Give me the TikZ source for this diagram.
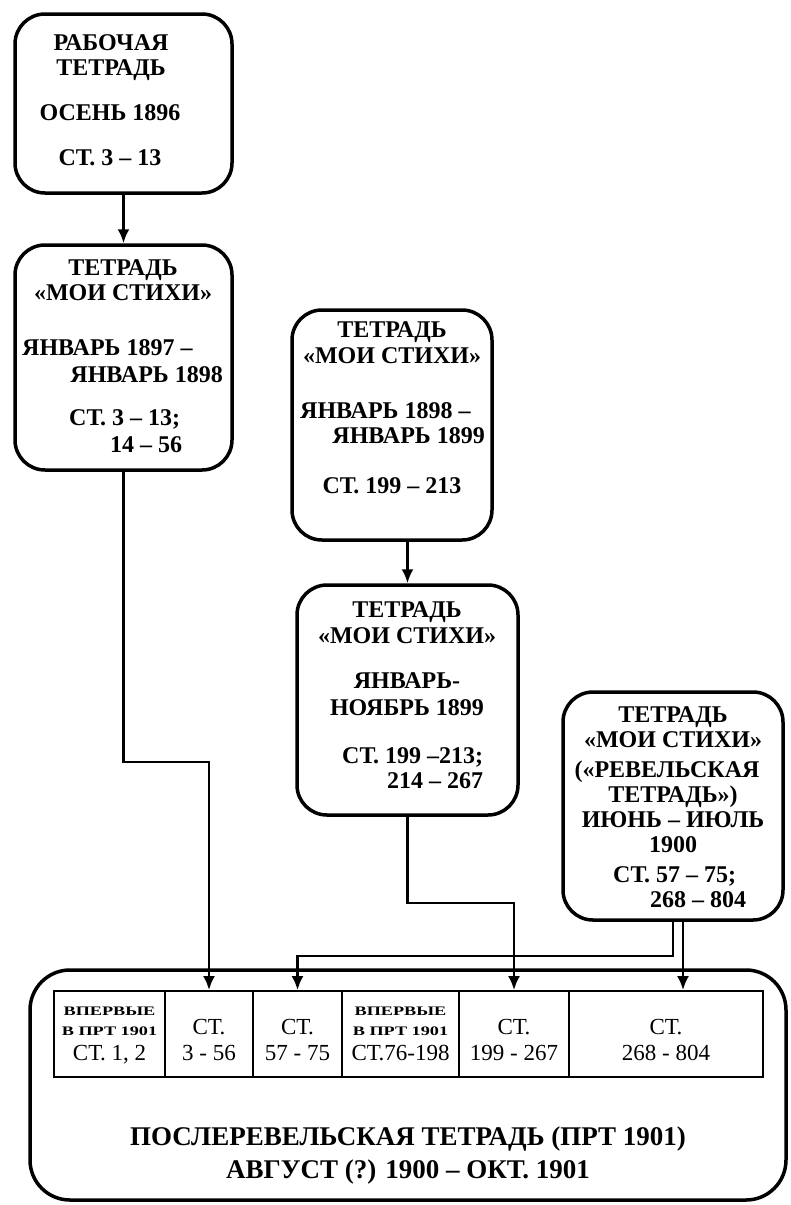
\documentclass[tikz,border=0pt]{standalone}
\usepackage{fontspec}
\setmainfont{Liberation Serif}[BoldFont={Liberation Serif Bold}]
\newfontfamily\widefont{Liberation Serif Bold}[FakeStretch=1.4]
\usetikzlibrary{arrows.meta}
\tikzset{
  box/.style={draw, line width=3.5pt, rounded corners=30pt, inner sep=0pt},
  bigbox/.style={draw, line width=3.5pt, rounded corners=40pt, inner sep=0pt},
  cell/.style={draw, line width=1.8pt, inner sep=0pt},
  t/.style={anchor=base, inner sep=0pt, font=\fontsize{24}{26}\selectfont\bfseries},
  tl/.style={t, anchor=base west},
  tr/.style={t, anchor=base east},
  tb/.style={anchor=base, inner sep=0pt, font=\fontsize{27}{29}\selectfont\bfseries},
  tc/.style={anchor=base, inner sep=0pt, font=\fontsize{23}{25}\selectfont},
  ts/.style={anchor=base, inner sep=0pt, font=\fontsize{13}{14}\selectfont\widefont},
  arr/.style={line width=2.5pt, -{Latex[length=14pt,width=12pt]}},
}
\begin{document}
\begin{tikzpicture}[x=1pt,y=-1pt]
\useasboundingbox (0,0) rectangle (790,1205);
% boxes
\node[box, minimum width=217pt, minimum height=179pt] (b1) at (123.5,103.5) {};
\node[box, minimum width=217pt, minimum height=225pt] (b2) at (123.5,357.5) {};
\node[box, minimum width=200pt, minimum height=230pt] (b3) at (392,425) {};
\node[box, minimum width=221pt, minimum height=230pt] (b4) at (407.5,700) {};
\node[box, minimum width=220pt, minimum height=228pt] (b5) at (673,806) {};
\node[bigbox, minimum width=756pt, minimum height=230pt] (big) at (408,1085) {};
% box 1 text
\node[t] (b1a) at (111,50) {РАБОЧАЯ};
\node[t] (b1b) at (111,75) {ТЕТРАДЬ};
\node[t] (b1c) at (110,120) {ОСЕНЬ 1896};
\node[t] (b1d) at (110,165) {СТ. 3 – 13};
% box 2 text
\node[t] (b2a) at (123,275) {ТЕТРАДЬ};
\node[t] (b2b) at (123,300) {«МОИ СТИХИ»};
\node[tl] (b2c) at (22,355) {ЯНВАРЬ 1897 –};
\node[tr] (b2d) at (223,382) {ЯНВАРЬ 1898};
\node[tl] (b2e) at (69,425) {СТ. 3 – 13;};
\node[tl] (b2f) at (110,452) {14 – 56};
% box 3 text
\node[t] (b3a) at (392,337) {ТЕТРАДЬ};
\node[t] (b3b) at (392,363) {«МОИ СТИХИ»};
\node[tl] (b3c) at (300,418) {ЯНВАРЬ 1898 –};
\node[tr] (b3d) at (485,443) {ЯНВАРЬ 1899};
\node[t] (b3e) at (392,493) {СТ. 199 – 213};
% box 4 text
\node[t] (b4a) at (407,617) {ТЕТРАДЬ};
\node[t] (b4b) at (407,643) {«МОИ СТИХИ»};
\node[t] (b4c) at (407,688) {ЯНВАРЬ-};
\node[t] (b4d) at (407,715) {НОЯБРЬ 1899};
\node[tl] (b4e) at (342,763) {СТ. 199 –213;};
\node[tl] (b4f) at (387,788) {214 – 267};
% box 5 text
\node[t] (b5a) at (673,722) {ТЕТРАДЬ};
\node[t] (b5b) at (673,747) {«МОИ СТИХИ»};
\node[t] (b5c) at (667,777) {(«РЕВЕЛЬСКАЯ};
\node[t] (b5d) at (673,802) {ТЕТРАДЬ»)};
\node[t] (b5e) at (673,827) {ИЮНЬ – ИЮЛЬ};
\node[t] (b5f) at (673,852) {1900};
\node[tl] (b5g) at (613,882) {СТ. 57 – 75;};
\node[tl] (b5h) at (650,907) {268 – 804};
% table
\node[cell, minimum width=111pt, minimum height=86pt] (c1) at (109.5,1034) {};
\node[cell, minimum width=88pt, minimum height=86pt] (c2) at (209,1034) {};
\node[cell, minimum width=89pt, minimum height=86pt] (c3) at (297.5,1034) {};
\node[cell, minimum width=117pt, minimum height=86pt] (c4) at (400.5,1034) {};
\node[cell, minimum width=110pt, minimum height=86pt] (c5) at (514,1034) {};
\node[cell, minimum width=194pt, minimum height=86pt] (c6) at (666,1034) {};
\node[ts] (c1a) at (109.5,1015) {ВПЕРВЫЕ};
\node[ts] (c1b) at (109.5,1035) {В ПРТ 1901};
\node[tc] (c1c) at (109.5,1060) {СТ. 1, 2};
\node[tc] (c2a) at (209,1034) {СТ.};
\node[tc] (c2b) at (209,1060) {3 - 56};
\node[tc] (c3a) at (297.5,1034) {СТ.};
\node[tc] (c3b) at (297.5,1060) {57 - 75};
\node[ts] (c4a) at (400.5,1015) {ВПЕРВЫЕ};
\node[ts] (c4b) at (400.5,1035) {В ПРТ 1901};
\node[tc] (c4c) at (400.5,1060) {СТ.76-198};
\node[tc] (c5a) at (514,1034) {СТ.};
\node[tc] (c5b) at (514,1060) {199 - 267};
\node[tc] (c6a) at (666,1034) {СТ.};
\node[tc] (c6b) at (666,1060) {268 - 804};
% bottom title
\node[tb] (ba) at (408,1145) {ПОСЛЕРЕВЕЛЬСКАЯ ТЕТРАДЬ (ПРТ 1901)};
\node[tb] (bb) at (408,1178) {АВГУСТ (?) 1900 – ОКТ. 1901};
% junctions
\coordinate (j1) at (0,762);
\coordinate (j2) at (0,903);
\coordinate (j3) at (0,956);
\coordinate (o2) at ([xshift=10pt]b5.south);
% connectors
\draw[arr] (b1.south) -- (b2.north);
\draw[arr] (b4.north |- b3.south) -- (b4.north);
\draw[arr] (b2.south) -- (b2.south |- j1) -- (c2.north |- j1) -- (c2.north);
\draw[arr] (b4.south) -- (b4.south |- j2) -- (c5.north |- j2) -- (c5.north);
\draw[arr] (b5.south) -- (b5.south |- j3) -- (c3.north |- j3) -- (c3.north);
\draw[arr] (o2) -- (o2 |- c6.north);
\end{tikzpicture}
\end{document}
